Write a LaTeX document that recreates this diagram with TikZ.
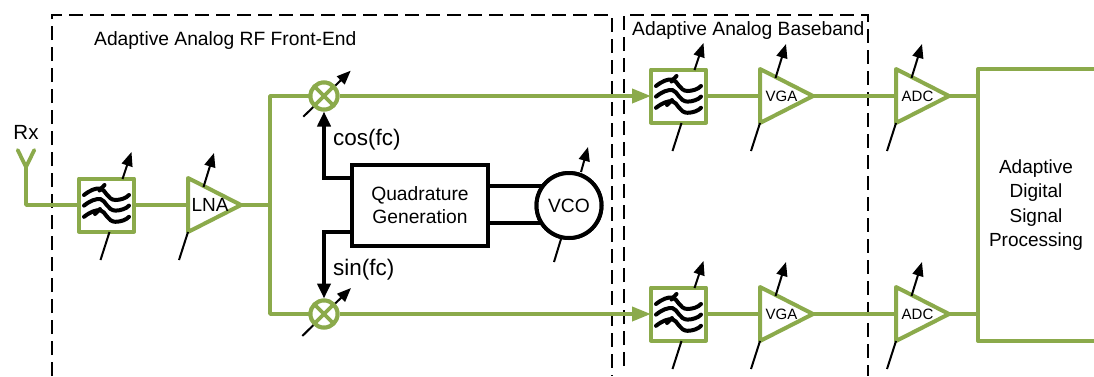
\documentclass[tikz,border=0pt]{standalone}
\usepackage{fontspec}
\setmainfont{Liberation Sans}
\usetikzlibrary{arrows.meta,shapes.geometric,calc}
\definecolor{lg}{HTML}{8BAA4B}
\tikzset{
 x=1pt,y=-1pt,
 wire/.style={draw=lg,line width=3.8pt},
 gbox/.style={draw=lg,line width=4pt,fill=white,line join=round,minimum width=55pt,minimum height=53pt,inner sep=0pt,outer sep=0pt},
 amp/.style={isosceles triangle,isosceles triangle apex angle=53.13,isosceles triangle stretches,shape border rotate=0,draw=lg,line width=4pt,fill=white,minimum width=54pt,minimum height=53pt,inner sep=0pt,outer sep=0pt,anchor=lower side,line join=round},
 tune/.style={draw=black,line width=2pt,-{Triangle[length=14pt,width=11pt]}},
 tunel/.style={draw=black,line width=2pt},
 blk/.style={draw=black,line width=4pt},
 blkarrow/.style={blk,-{Triangle[length=15pt,width=13pt]}},
 region/.style={draw=black,line width=2pt,dash pattern=on 14pt off 7pt},
 mixer/.style={circle,draw=lg,line width=4pt,fill=white,minimum size=27pt,inner sep=0pt},
 wavy/.style={draw=black,line width=4pt,line cap=round},
 lab/.style={inner sep=0pt,font=\fontsize{19.25}{23}\selectfont},
 sm/.style={inner sep=0pt,font=\fontsize{15}{18}\selectfont},
}
\newcommand{\filtersym}[1]{%
 \foreach \dy in {-10,0.6,11.8}{%
  \draw[wavy] ($(#1)+(-22.5,\dy)$) .. controls ($(#1)+(-16,\dy-5)$) and ($(#1)+(-11,\dy-7)$) .. ($(#1)+(-6,\dy-6.5)$)
     .. controls ($(#1)+(-1,\dy-5.5)$) and ($(#1)+(1,\dy+5)$) .. ($(#1)+(9,\dy+5)$)
     .. controls ($(#1)+(14,\dy+5)$) and ($(#1)+(20,\dy+3)$) .. ($(#1)+(22.5,\dy)$);
 }%
 \draw[wavy] ($(#1)+(-7,-14.5)$) -- ($(#1)+(-2,-20)$);
 \draw[wavy] ($(#1)+(-11.5,9)$) -- ($(#1)+(-6.5,4)$);
}
\newcommand{\filtertune}[1]{%
 \draw[tunel] ($(#1)+(3,27)$) -- ($(#1)+(-6,55)$);
 \draw[tune] ($(#1)+(16,-26)$) -- ($(#1)+(25,-53)$);
}
\newcommand{\amptune}[1]{%
 \draw[tunel] ($(#1.lower side)+(0,27)$) -- ($(#1.lower side)+(-9,55)$);
 \draw[tune] ($(#1.lower side)+(15.5,-18)$) -- ($(#1.lower side)+(26,-52)$);
}
\begin{document}
\begin{tikzpicture}
\useasboundingbox[fill=white] (0,0) rectangle (1094,376);
% dashed regions
\coordinate (ra1) at (52,376); \coordinate (ra2) at (52,15); \coordinate (ra3) at (612,15); \coordinate (ra4) at (612,376);
\coordinate (rb1) at (624,366); \coordinate (rb2) at (624,15); \coordinate (rb3) at (868,15); \coordinate (rb4) at (868,376);
\draw[region] (ra1) -- (ra2) -- (ra3) -- (ra4);
\draw[region] (rb1) -- (rb2) -- (rb3) -- (rb4);
\node[lab,anchor=west] (t1) at (94,41) {Adaptive Analog RF Front-End};
\node[lab,anchor=west] (t2) at (632,31) {Adaptive Analog Baseband};
% nodes
\coordinate (ant) at (26,167);
\node[gbox] (f0) at (106.5,205) {};
\node[amp] (a0) at (188,205) {};
\node[gbox] (f1) at (678.5,96) {};
\node[amp] (v1) at (760,96) {};
\node[amp] (d1) at (896,96) {};
\node[gbox] (f2) at (678.5,314) {};
\node[amp] (v2) at (760,314) {};
\node[amp] (d2) at (896,314) {};
\node[mixer] (m1) at (324,96) {};
\node[mixer] (m2) at (324,314) {};
\node[draw=black,line width=4pt,fill=white,minimum width=136pt,minimum height=81pt,inner sep=0pt,align=center,font=\fontsize{19.25}{23}\selectfont] (q) at (420,205.5) {Quadrature\\Generation};
\node[circle,draw=black,line width=4pt,fill=white,minimum size=65pt,inner sep=0pt] (vco) at (569,205.5) {};
\coordinate (dsp) at (978,205);
\coordinate (split) at (270,205);
% tuning arrows behind
\draw[tune] (303.3,116.7) -- (350.7,70.7);
\draw[tune] (302.3,336) -- (351,288);
% wires
\draw[wire,line join=round] (f0.west) -| (ant);
\draw[wire,line cap=round] (ant) -- ++(-8.3,-17);
\draw[wire,line cap=round] (ant) -- ++(8.3,-17);
\draw[wire] (f0.east) -- (a0.lower side);
\draw[wire] (a0.apex) -- (split);
\draw[wire,line join=round] (m1.west) -| (split) |- (m2.west);
\draw[wire,-{Triangle[length=19pt,width=14pt]}] (m1.east) -- (f1.west);
\draw[wire,-{Triangle[length=19pt,width=14pt]}] (m2.east) -- (f2.west);
\draw[wire] (f1.east) -- (v1.lower side);
\draw[wire] (f2.east) -- (v2.lower side);
\draw[wire] (v1.apex) -- (d1.lower side);
\draw[wire] (v2.apex) -- (d2.lower side);
\draw[wire] (d1.apex) -- (d1.apex -| dsp);
\draw[wire] (d2.apex) -- (d2.apex -| dsp);
\draw[wire,line width=4pt,line join=round] (1094,69) -| (978,341) -- (1094,341);
% mixer marks
\foreach \m in {m1,m2}{%
 \node[mixer] at (\m) {};
 \draw[draw=lg,line width=3.6pt] ($(\m)+(-9.5,-9.5)$) -- ($(\m)+(9.5,9.5)$);
 \draw[draw=lg,line width=3.6pt] ($(\m)+(-9.5,9.5)$) -- ($(\m)+(9.5,-9.5)$);
}
% black signal lines
\draw[blkarrow] (q.west |- 0,178) -| (m1.south);
\draw[blkarrow] (q.west |- 0,232) -| (m2.north);
\draw[blk] (q.east |- 0,186) -- ++(58,0);
\draw[blk] (q.east |- 0,223) -- ++(58,0);
\node[circle,draw=black,line width=4pt,fill=white,minimum size=65pt,inner sep=0pt] at (vco) {};
\node[inner sep=0pt,font=\fontsize{19.25}{23}\selectfont] at (vco) {VCO};
% filter glyphs and tunes
\foreach \f in {f0,f1,f2}{\filtersym{\f}\filtertune{\f}}
\foreach \a in {a0,v1,d1,v2,d2}{\amptune{\a}}
\draw[tunel] (561,239) -- (554,262);
\draw[tune] (581,172) -- (588,147);
% labels
\node[inner sep=0pt,font=\fontsize{20.5}{24}\selectfont] (rx) at (26,132) {Rx};
\node[inner sep=0pt,font=\fontsize{19}{23}\selectfont] (lna) at (210,205) {LNA};
\node[sm] (vl1) at (781.5,96) {VGA};
\node[sm] (vl2) at (781.5,314) {VGA};
\node[sm] (dl1) at (917.5,96) {ADC};
\node[sm] (dl2) at (917.5,314) {ADC};
\node[inner sep=0pt,anchor=west,font=\fontsize{22.5}{26}\selectfont] (cos) at (333,140) {cos(fc)};
\node[inner sep=0pt,anchor=west,font=\fontsize{22.5}{26}\selectfont] (sin) at (333,270) {sin(fc)};
\node[inner sep=0pt,align=center,font=\fontsize{19}{24.5}\selectfont] (dspt) at (1036,205) {Adaptive\\Digital\\Signal\\Processing};
\end{tikzpicture}
\end{document}
